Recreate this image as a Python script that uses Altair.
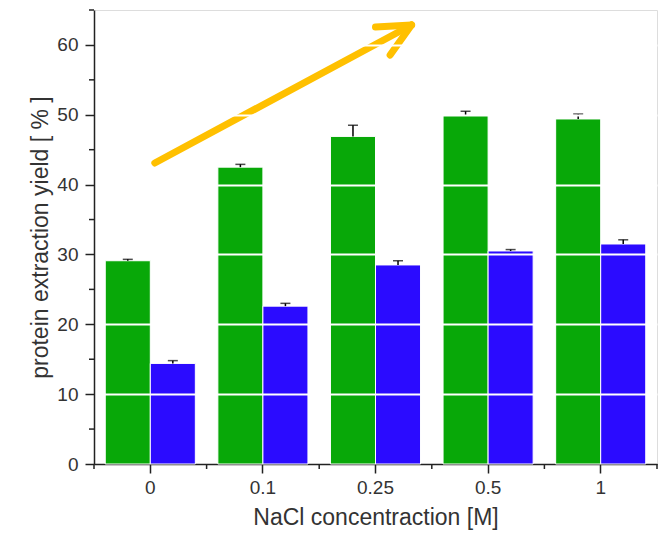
import altair as alt
import pandas as pd

categories = ["0", "0.1", "0.25", "0.5", "1"]
green_vals = [29.1, 42.5, 46.9, 49.9, 49.4]
green_err = [0.2, 0.4, 1.6, 0.6, 0.7]
blue_vals = [14.4, 22.6, 28.5, 30.5, 31.5]
blue_err = [0.4, 0.4, 0.6, 0.2, 0.6]
series = ["A", "B"]
y_ticks = [0, 10, 20, 30, 40, 50, 60]
y_minor = [5, 15, 25, 35, 45, 55, 65]

# arrow annotation in data units (x: category index, y: percent)
arrow_seg = ["shaft", "shaft", "arm1", "arm1", "arm2", "arm2"]
arrow_x = [0.04, 2.32, 2.0, 2.32, 2.13, 2.32]
arrow_y = [43.1, 62.85, 62.55, 62.85, 58.55, 62.85]

rows = []
for i, c in enumerate(categories):
    rows.append({"cat": c, "s": series[0], "v": green_vals[i], "e": green_vals[i] + green_err[i]})
    rows.append({"cat": c, "s": series[1], "v": blue_vals[i], "e": blue_vals[i] + blue_err[i]})
df = pd.DataFrame(rows)

W, H = 563, 454
FONT = "Liberation Sans"
TXT = "#333333"
AX = "#222222"

xscale = alt.Scale(paddingInner=0, paddingOuter=0)
xenc = alt.X("cat:N", sort=categories, scale=xscale,
             axis=alt.Axis(title="NaCl concentraction [M]", labelAngle=0,
                           labelFont=FONT, labelFontSize=19, labelColor=TXT,
                           labelPadding=5, tickSize=9, tickWidth=1.5, tickColor=AX,
                           domainColor=AX, domainWidth=1.5,
                           titleFont=FONT, titleFontSize=23, titleFontWeight="normal",
                           titleColor=TXT, titleY=60, titleBaseline="alphabetic", grid=False))
xoff = alt.XOffset("s:N", sort=series, scale=alt.Scale(paddingInner=0, paddingOuter=0.25))
yscale = alt.Scale(domain=[0, 65], nice=False, zero=True)

bars = alt.Chart(df).mark_bar(stroke="white", strokeWidth=1).encode(
    x=xenc,
    xOffset=xoff,
    y=alt.Y("v:Q", scale=yscale,
            axis=alt.Axis(values=y_ticks, title="protein extraction yield [ % ]",
                          labelFont=FONT, labelFontSize=19, labelColor=TXT, labelPadding=7,
                          tickSize=9, tickWidth=1.5, tickColor=AX,
                          domainColor=AX, domainWidth=1.5,
                          grid=True, gridWidth=2,
                          gridColor={"condition": {"test": "datum.value === 0", "value": "transparent"},
                                     "value": "white"},
                          zindex=1,
                          titleFont=FONT, titleFontSize=23, titleFontWeight="normal",
                          titleColor=TXT, titleAngle=-90, titleX=-54, titleY=227,
                          titleAlign="center", titleBaseline="middle")),
    color=alt.Color("s:N", sort=series,
                    scale=alt.Scale(domain=series, range=["#08a808", "#2b0bff"]), legend=None),
)

stems = alt.Chart(df).mark_rule(color="black", strokeWidth=1.5).encode(
    x=alt.X("cat:N", sort=categories, scale=xscale),
    xOffset=xoff,
    y=alt.Y("v:Q", scale=yscale),
    y2="e:Q",
)
caps = alt.Chart(df).mark_tick(color="black", thickness=1.5, size=10, orient="horizontal").encode(
    x=alt.X("cat:N", sort=categories, scale=xscale),
    xOffset=xoff,
    y=alt.Y("e:Q", scale=yscale),
)

mdf = pd.DataFrame({"cat": categories})
minor_x = alt.Chart(mdf).mark_rule(color=AX, strokeWidth=1.5).encode(
    x=alt.X("cat:N", sort=categories, scale=xscale, bandPosition=0),
    y=alt.value(H), y2=alt.value(H + 5),
)
minor_x_end = alt.Chart(pd.DataFrame({"cat": categories[-1:]})).mark_rule(color=AX, strokeWidth=1.5).encode(
    x=alt.X("cat:N", sort=categories, scale=xscale, bandPosition=1),
    y=alt.value(H), y2=alt.value(H + 5),
)
minor_y = alt.Chart(pd.DataFrame({"t": y_minor})).mark_rule(color=AX, strokeWidth=1.5).encode(
    y=alt.Y("t:Q", scale=yscale),
    x=alt.value(-5), x2=alt.value(0),
)

inner = alt.layer(bars, stems, caps, minor_x, minor_x_end, minor_y)

adf = pd.DataFrame({"seg": arrow_seg, "ax": arrow_x, "ay": arrow_y,
                    "o": list(range(len(arrow_seg)))})
arrow = alt.Chart(adf).mark_line(color="#ffc000", strokeWidth=7, strokeCap="round",
                                 strokeJoin="round").encode(
    x=alt.X("ax:Q", scale=alt.Scale(domain=[-0.5, 4.5], nice=False, zero=False), axis=None),
    y=alt.Y("ay:Q", scale=yscale),
    detail="seg:N",
    order="o:Q",
)

chart = alt.layer(inner, arrow).resolve_scale(x="independent").properties(
    width=W, height=H,
    autosize=alt.AutoSizeParams(type="none"),
    padding={"left": 86, "top": 2, "right": 7, "bottom": 67},
).configure_view(stroke=None).configure(background="white")

chart.save("out.html", embed_options={"renderer": "svg", "actions": False})
